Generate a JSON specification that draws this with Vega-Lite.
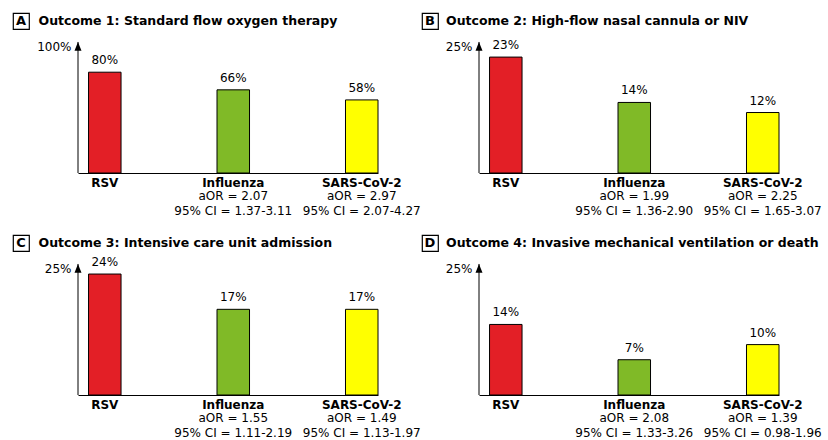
{
  "$schema": "https://vega.github.io/schema/vega-lite/v6.json",
  "background": "white",
  "padding": {"left": 12, "top": 12, "right": 0, "bottom": 0},
  "config": {
    "font": "DejaVu Sans",
    "view": {"stroke": null},
    "axis": {"grid": false},
    "text": {"color": "black"}
  },
  "data": {
    "values": [
      {"panel": "A", "virus": "RSV", "pct": 0.80, "aor": null, "ci": null},
      {"panel": "A", "virus": "Influenza", "pct": 0.66, "aor": "aOR = 2.07", "ci": "95% CI = 1.37-3.11"},
      {"panel": "A", "virus": "SARS-CoV-2", "pct": 0.58, "aor": "aOR = 2.97", "ci": "95% CI = 2.07-4.27"},
      {"panel": "B", "virus": "RSV", "pct": 0.23, "aor": null, "ci": null},
      {"panel": "B", "virus": "Influenza", "pct": 0.14, "aor": "aOR = 1.99", "ci": "95% CI = 1.36-2.90"},
      {"panel": "B", "virus": "SARS-CoV-2", "pct": 0.12, "aor": "aOR = 2.25", "ci": "95% CI = 1.65-3.07"},
      {"panel": "C", "virus": "RSV", "pct": 0.24, "aor": null, "ci": null},
      {"panel": "C", "virus": "Influenza", "pct": 0.17, "aor": "aOR = 1.55", "ci": "95% CI = 1.11-2.19"},
      {"panel": "C", "virus": "SARS-CoV-2", "pct": 0.17, "aor": "aOR = 1.49", "ci": "95% CI = 1.13-1.97"},
      {"panel": "D", "virus": "RSV", "pct": 0.14, "aor": null, "ci": null},
      {"panel": "D", "virus": "Influenza", "pct": 0.07, "aor": "aOR = 2.08", "ci": "95% CI = 1.33-3.26"},
      {"panel": "D", "virus": "SARS-CoV-2", "pct": 0.10, "aor": "aOR = 1.39", "ci": "95% CI = 0.98-1.96"}
    ]
  },
  "columns": 2,
  "spacing": {"row": 17, "column": 0},
  "concat": [
    {
      "bounds": "flush",
      "spacing": 49,
      "hconcat": [
        {
          "width": 16, "height": 16,
          "view": {"stroke": "black", "strokeWidth": 1.2, "fill": "white"},
          "title": {"text": "Outcome 1: Standard flow oxygen therapy", "orient": "top", "anchor": "start", "frame": "group", "align": "left", "offset": -14, "dx": 25.5, "fontSize": 12.5, "fontWeight": "bold", "color": "black"},
          "data": {"values": [{"letter": "A"}]},
          "mark": {"type": "text", "fontSize": 13, "fontWeight": "bold", "color": "black"},
          "encoding": {"text": {"field": "letter"}}
        },
        {
          "width": 300, "height": 160,
          "transform": [{"filter": "datum.panel === 'A'"}],
          "resolve": {"scale": {"x": "independent"}},
          "layer": [
            {
              "encoding": {
                "x": {"field": "virus", "type": "nominal", "scale": {"domain": ["RSV", "Influenza", "SARS-CoV-2"], "paddingInner": 0.747, "paddingOuter": 0.041, "align": 1},
                      "axis": {"title": null, "ticks": false, "labelAngle": 0, "labelFontWeight": "bold", "labelFontSize": 12, "labelColor": "black", "labelPadding": 4, "domainColor": "black"}}
              },
              "layer": [
                {
                  "mark": {"type": "bar", "stroke": "black", "strokeWidth": 1},
                  "encoding": {
                    "y": {"field": "pct", "type": "quantitative", "scale": {"domain": [0, 1.2698], "nice": false},
                          "axis": {"title": null, "values": [1], "format": ".0%", "ticks": false, "grid": false, "domain": false, "labelFontSize": 12, "labelColor": "black", "labelPadding": 7}},
                    "color": {"field": "virus", "type": "nominal", "scale": {"domain": ["RSV", "Influenza", "SARS-CoV-2"], "range": ["#E31F26", "#80BA27", "#FFFF00"]}, "legend": null}
                  }
                },
                {
                  "mark": {"type": "text", "baseline": "bottom", "dy": -5, "fontSize": 12},
                  "encoding": {"y": {"field": "pct", "type": "quantitative"}, "text": {"field": "pct", "type": "quantitative", "format": ".0%"}}
                },
                {
                  "transform": [{"filter": "isValid(datum.aor)"}],
                  "mark": {"type": "text", "baseline": "middle", "dy": 23, "fontSize": 12},
                  "encoding": {"y": {"datum": 0, "type": "quantitative"}, "text": {"field": "aor"}}
                },
                {
                  "transform": [{"filter": "isValid(datum.ci)"}],
                  "mark": {"type": "text", "baseline": "middle", "dy": 38, "fontSize": 12},
                  "encoding": {"y": {"datum": 0, "type": "quantitative"}, "text": {"field": "ci"}}
                }
              ]
            },
            {
              "data": {"values": [{"axis": "y"}]},
              "encoding": {"x": {"datum": 0, "type": "quantitative", "scale": {"domain": [0, 1]}, "axis": null}},
              "layer": [
                {"mark": {"type": "rule", "color": "black", "strokeWidth": 1}, "encoding": {"y": {"datum": 0, "type": "quantitative"}, "y2": {"datum": 1.04}}},
                {"mark": {"type": "point", "shape": "M0,0L-0.75,1.9L0.75,1.9Z", "filled": true, "color": "black", "size": 87, "opacity": 1}, "encoding": {"y": {"datum": 1.04, "type": "quantitative"}}}
              ]
            }
          ]
        }
      ]
    },
    {
      "bounds": "flush",
      "spacing": 41,
      "hconcat": [
        {
          "width": 16, "height": 16,
          "view": {"stroke": "black", "strokeWidth": 1.2, "fill": "white"},
          "title": {"text": "Outcome 2: High-flow nasal cannula or NIV", "orient": "top", "anchor": "start", "frame": "group", "align": "left", "offset": -14, "dx": 24, "fontSize": 12.5, "fontWeight": "bold", "color": "black"},
          "data": {"values": [{"letter": "B"}]},
          "mark": {"type": "text", "fontSize": 13, "fontWeight": "bold", "color": "black"},
          "encoding": {"text": {"field": "letter"}}
        },
        {
          "width": 300, "height": 160,
          "transform": [{"filter": "datum.panel === 'B'"}],
          "resolve": {"scale": {"x": "independent"}},
          "layer": [
            {
              "encoding": {
                "x": {"field": "virus", "type": "nominal", "scale": {"domain": ["RSV", "Influenza", "SARS-CoV-2"], "paddingInner": 0.747, "paddingOuter": 0.041, "align": 1},
                      "axis": {"title": null, "ticks": false, "labelAngle": 0, "labelFontWeight": "bold", "labelFontSize": 12, "labelColor": "black", "labelPadding": 4, "domainColor": "black"}}
              },
              "layer": [
                {
                  "mark": {"type": "bar", "stroke": "black", "strokeWidth": 1},
                  "encoding": {
                    "y": {"field": "pct", "type": "quantitative", "scale": {"domain": [0, 0.31746], "nice": false},
                          "axis": {"title": null, "values": [0.25], "format": ".0%", "ticks": false, "grid": false, "domain": false, "labelFontSize": 12, "labelColor": "black", "labelPadding": 7}},
                    "color": {"field": "virus", "type": "nominal", "scale": {"domain": ["RSV", "Influenza", "SARS-CoV-2"], "range": ["#E31F26", "#80BA27", "#FFFF00"]}, "legend": null}
                  }
                },
                {
                  "mark": {"type": "text", "baseline": "bottom", "dy": -5, "fontSize": 12},
                  "encoding": {"y": {"field": "pct", "type": "quantitative"}, "text": {"field": "pct", "type": "quantitative", "format": ".0%"}}
                },
                {
                  "transform": [{"filter": "isValid(datum.aor)"}],
                  "mark": {"type": "text", "baseline": "middle", "dy": 23, "fontSize": 12},
                  "encoding": {"y": {"datum": 0, "type": "quantitative"}, "text": {"field": "aor"}}
                },
                {
                  "transform": [{"filter": "isValid(datum.ci)"}],
                  "mark": {"type": "text", "baseline": "middle", "dy": 38, "fontSize": 12},
                  "encoding": {"y": {"datum": 0, "type": "quantitative"}, "text": {"field": "ci"}}
                }
              ]
            },
            {
              "data": {"values": [{"axis": "y"}]},
              "encoding": {"x": {"datum": 0, "type": "quantitative", "scale": {"domain": [0, 1]}, "axis": null}},
              "layer": [
                {"mark": {"type": "rule", "color": "black", "strokeWidth": 1}, "encoding": {"y": {"datum": 0, "type": "quantitative"}, "y2": {"datum": 0.26}}},
                {"mark": {"type": "point", "shape": "M0,0L-0.75,1.9L0.75,1.9Z", "filled": true, "color": "black", "size": 87, "opacity": 1}, "encoding": {"y": {"datum": 0.26, "type": "quantitative"}}}
              ]
            }
          ]
        }
      ]
    },
    {
      "bounds": "flush",
      "spacing": 49,
      "hconcat": [
        {
          "width": 16, "height": 16,
          "view": {"stroke": "black", "strokeWidth": 1.2, "fill": "white"},
          "title": {"text": "Outcome 3: Intensive care unit admission", "orient": "top", "anchor": "start", "frame": "group", "align": "left", "offset": -14, "dx": 25.5, "fontSize": 12.5, "fontWeight": "bold", "color": "black"},
          "data": {"values": [{"letter": "C"}]},
          "mark": {"type": "text", "fontSize": 13, "fontWeight": "bold", "color": "black"},
          "encoding": {"text": {"field": "letter"}}
        },
        {
          "width": 300, "height": 160,
          "transform": [{"filter": "datum.panel === 'C'"}],
          "resolve": {"scale": {"x": "independent"}},
          "layer": [
            {
              "encoding": {
                "x": {"field": "virus", "type": "nominal", "scale": {"domain": ["RSV", "Influenza", "SARS-CoV-2"], "paddingInner": 0.747, "paddingOuter": 0.041, "align": 1},
                      "axis": {"title": null, "ticks": false, "labelAngle": 0, "labelFontWeight": "bold", "labelFontSize": 12, "labelColor": "black", "labelPadding": 4, "domainColor": "black"}}
              },
              "layer": [
                {
                  "mark": {"type": "bar", "stroke": "black", "strokeWidth": 1},
                  "encoding": {
                    "y": {"field": "pct", "type": "quantitative", "scale": {"domain": [0, 0.31746], "nice": false},
                          "axis": {"title": null, "values": [0.25], "format": ".0%", "ticks": false, "grid": false, "domain": false, "labelFontSize": 12, "labelColor": "black", "labelPadding": 7}},
                    "color": {"field": "virus", "type": "nominal", "scale": {"domain": ["RSV", "Influenza", "SARS-CoV-2"], "range": ["#E31F26", "#80BA27", "#FFFF00"]}, "legend": null}
                  }
                },
                {
                  "mark": {"type": "text", "baseline": "bottom", "dy": -5, "fontSize": 12},
                  "encoding": {"y": {"field": "pct", "type": "quantitative"}, "text": {"field": "pct", "type": "quantitative", "format": ".0%"}}
                },
                {
                  "transform": [{"filter": "isValid(datum.aor)"}],
                  "mark": {"type": "text", "baseline": "middle", "dy": 23, "fontSize": 12},
                  "encoding": {"y": {"datum": 0, "type": "quantitative"}, "text": {"field": "aor"}}
                },
                {
                  "transform": [{"filter": "isValid(datum.ci)"}],
                  "mark": {"type": "text", "baseline": "middle", "dy": 38, "fontSize": 12},
                  "encoding": {"y": {"datum": 0, "type": "quantitative"}, "text": {"field": "ci"}}
                }
              ]
            },
            {
              "data": {"values": [{"axis": "y"}]},
              "encoding": {"x": {"datum": 0, "type": "quantitative", "scale": {"domain": [0, 1]}, "axis": null}},
              "layer": [
                {"mark": {"type": "rule", "color": "black", "strokeWidth": 1}, "encoding": {"y": {"datum": 0, "type": "quantitative"}, "y2": {"datum": 0.26}}},
                {"mark": {"type": "point", "shape": "M0,0L-0.75,1.9L0.75,1.9Z", "filled": true, "color": "black", "size": 87, "opacity": 1}, "encoding": {"y": {"datum": 0.26, "type": "quantitative"}}}
              ]
            }
          ]
        }
      ]
    },
    {
      "bounds": "flush",
      "spacing": 41,
      "hconcat": [
        {
          "width": 16, "height": 16,
          "view": {"stroke": "black", "strokeWidth": 1.2, "fill": "white"},
          "title": {"text": "Outcome 4: Invasive mechanical ventilation or death", "orient": "top", "anchor": "start", "frame": "group", "align": "left", "offset": -14, "dx": 24, "fontSize": 12.5, "fontWeight": "bold", "color": "black"},
          "data": {"values": [{"letter": "D"}]},
          "mark": {"type": "text", "fontSize": 13, "fontWeight": "bold", "color": "black"},
          "encoding": {"text": {"field": "letter"}}
        },
        {
          "width": 300, "height": 160,
          "transform": [{"filter": "datum.panel === 'D'"}],
          "resolve": {"scale": {"x": "independent"}},
          "layer": [
            {
              "encoding": {
                "x": {"field": "virus", "type": "nominal", "scale": {"domain": ["RSV", "Influenza", "SARS-CoV-2"], "paddingInner": 0.747, "paddingOuter": 0.041, "align": 1},
                      "axis": {"title": null, "ticks": false, "labelAngle": 0, "labelFontWeight": "bold", "labelFontSize": 12, "labelColor": "black", "labelPadding": 4, "domainColor": "black"}}
              },
              "layer": [
                {
                  "mark": {"type": "bar", "stroke": "black", "strokeWidth": 1},
                  "encoding": {
                    "y": {"field": "pct", "type": "quantitative", "scale": {"domain": [0, 0.31746], "nice": false},
                          "axis": {"title": null, "values": [0.25], "format": ".0%", "ticks": false, "grid": false, "domain": false, "labelFontSize": 12, "labelColor": "black", "labelPadding": 7}},
                    "color": {"field": "virus", "type": "nominal", "scale": {"domain": ["RSV", "Influenza", "SARS-CoV-2"], "range": ["#E31F26", "#80BA27", "#FFFF00"]}, "legend": null}
                  }
                },
                {
                  "mark": {"type": "text", "baseline": "bottom", "dy": -5, "fontSize": 12},
                  "encoding": {"y": {"field": "pct", "type": "quantitative"}, "text": {"field": "pct", "type": "quantitative", "format": ".0%"}}
                },
                {
                  "transform": [{"filter": "isValid(datum.aor)"}],
                  "mark": {"type": "text", "baseline": "middle", "dy": 23, "fontSize": 12},
                  "encoding": {"y": {"datum": 0, "type": "quantitative"}, "text": {"field": "aor"}}
                },
                {
                  "transform": [{"filter": "isValid(datum.ci)"}],
                  "mark": {"type": "text", "baseline": "middle", "dy": 38, "fontSize": 12},
                  "encoding": {"y": {"datum": 0, "type": "quantitative"}, "text": {"field": "ci"}}
                }
              ]
            },
            {
              "data": {"values": [{"axis": "y"}]},
              "encoding": {"x": {"datum": 0, "type": "quantitative", "scale": {"domain": [0, 1]}, "axis": null}},
              "layer": [
                {"mark": {"type": "rule", "color": "black", "strokeWidth": 1}, "encoding": {"y": {"datum": 0, "type": "quantitative"}, "y2": {"datum": 0.26}}},
                {"mark": {"type": "point", "shape": "M0,0L-0.75,1.9L0.75,1.9Z", "filled": true, "color": "black", "size": 87, "opacity": 1}, "encoding": {"y": {"datum": 0.26, "type": "quantitative"}}}
              ]
            }
          ]
        }
      ]
    }
  ]
}
